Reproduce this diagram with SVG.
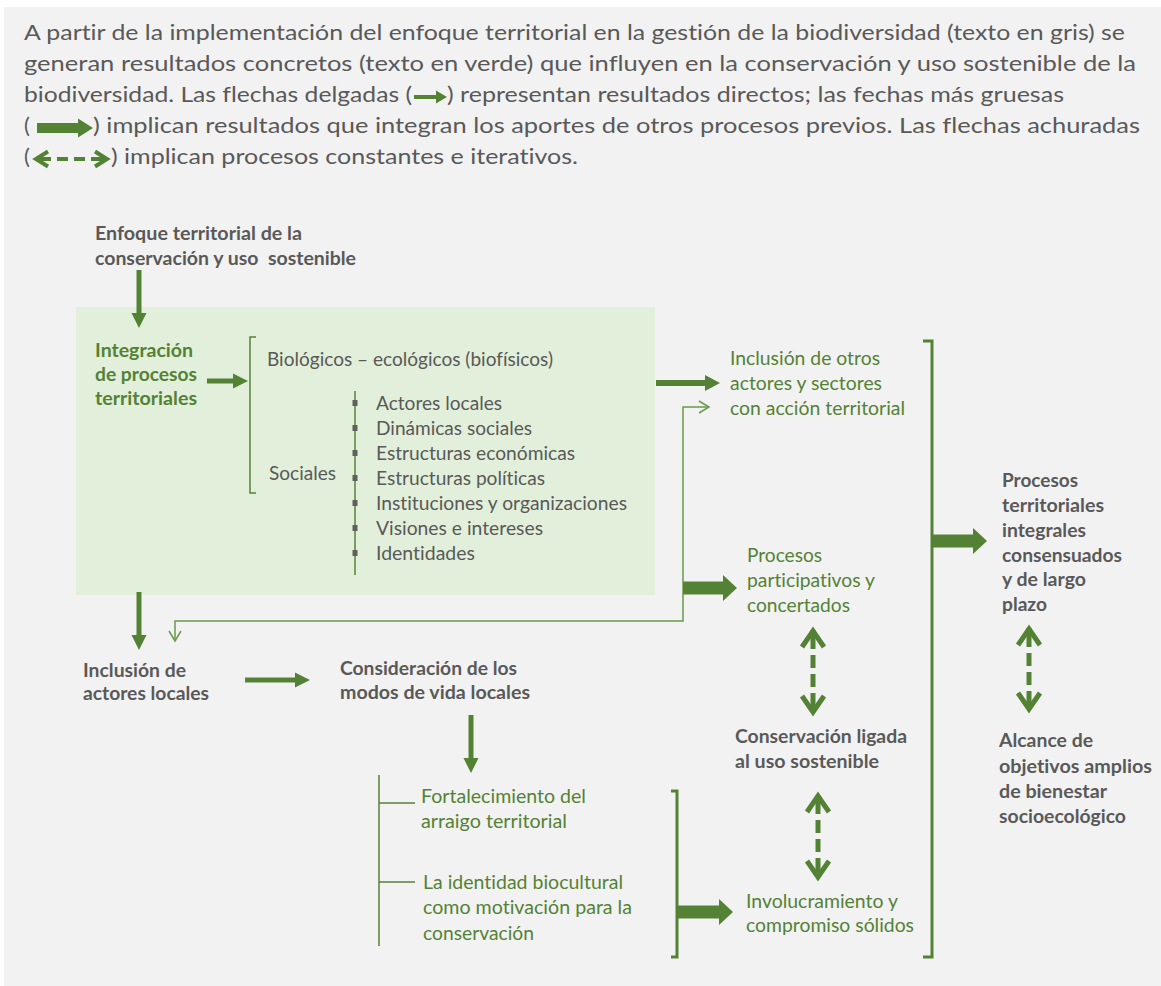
<svg xmlns="http://www.w3.org/2000/svg" width="1161" height="986" viewBox="0 0 1161 986">
<style>
text{font-variant-ligatures:none}
.p{font-family:Lato,'Open Sans',sans-serif;font-size:22px;fill:#595959}
.r{font-family:Lato,'Open Sans',sans-serif;font-size:19.5px;fill:#595959}
.g{font-family:Lato,'Open Sans',sans-serif;font-size:19.5px;fill:#548235}
.b{font-family:Lato,'Open Sans',sans-serif;font-size:18.5px;font-weight:700;fill:#595959}
.gb{font-family:Lato,'Open Sans',sans-serif;font-size:18.5px;font-weight:700;fill:#548235}
.ar{fill:#548235}
.ln{stroke:#548235;fill:none;stroke-width:1.5}
.br{stroke:#548235;fill:none;stroke-width:3}
.thin{stroke:#6a9b4b;fill:none;stroke-width:1.5}
.dsh{stroke:#548235;fill:none;stroke-width:5;stroke-dasharray:19 6 13 6 13 6 19}
.chev{stroke:#548235;fill:none;stroke-width:5;stroke-linejoin:miter}
.sq{fill:#5f5f5f}
</style>
<rect x="0" y="0" width="1161" height="986" fill="#ffffff"/>
<rect x="4" y="7" width="1157" height="979" fill="#f2f2f2"/>
<g id="legend">
<text class="p" x="24" y="40" textLength="1101" lengthAdjust="spacingAndGlyphs">A partir de la implementación del enfoque territorial en la gestión de la biodiversidad (texto en gris) se</text>
<text class="p" x="24" y="71" textLength="1112" lengthAdjust="spacingAndGlyphs">generan resultados concretos (texto en verde) que influyen en la conservación y uso sostenible de la</text>
<text class="p" x="24" y="102" textLength="388" lengthAdjust="spacingAndGlyphs">biodiversidad. Las flechas delgadas (</text>
<polygon class="ar" points="414,95 436,95 436,90.5 447,97 436,103.5 436,99 414,99"/>
<text class="p" x="447" y="102" textLength="617" lengthAdjust="spacingAndGlyphs">) representan resultados directos; las fechas más gruesas</text>
<text class="p" x="24" y="133">(</text>
<polygon class="ar" points="37,123 78,123 78,118.5 93,128 78,137.5 78,133 37,133"/>
<text class="p" x="93" y="133" textLength="1047" lengthAdjust="spacingAndGlyphs">) implican resultados que integran los aportes de otros procesos previos. Las flechas achuradas</text>
<text class="p" x="24" y="164">(</text>
<polyline class="chev" style="stroke-width:4" points="48,151.5 36,159 48,166.5"/>
<line x1="36" y1="159" x2="51" y2="159" stroke="#548235" stroke-width="4"/>
<line x1="57" y1="159" x2="68" y2="159" stroke="#548235" stroke-width="4"/>
<line x1="74" y1="159" x2="85" y2="159" stroke="#548235" stroke-width="4"/>
<line x1="91" y1="159" x2="107" y2="159" stroke="#548235" stroke-width="4"/>
<polyline class="chev" style="stroke-width:4" points="95,151.5 107,159 95,166.5"/>
<text class="p" x="111" y="164" textLength="467" lengthAdjust="spacingAndGlyphs">) implican procesos constantes e iterativos.</text>
</g>
<rect id="integration-box" x="76" y="307" width="579" height="288" fill="#e2efda"/>
<g id="enfoque">
<text class="b" x="95" y="240" textLength="207" lengthAdjust="spacingAndGlyphs">Enfoque territorial de la</text>
<text class="b" x="95" y="265" textLength="261" lengthAdjust="spacingAndGlyphs" xml:space="preserve">conservación y uso  sostenible</text>
</g>
<g id="integracion">
<text class="gb" x="95" y="357" textLength="98" lengthAdjust="spacingAndGlyphs">Integración</text>
<text class="gb" x="95" y="381" textLength="102" lengthAdjust="spacingAndGlyphs">de procesos</text>
<text class="gb" x="95" y="405" textLength="102" lengthAdjust="spacingAndGlyphs">territoriales</text>
</g>
<g id="biologicos">
<text class="r" x="267" y="366" textLength="286" lengthAdjust="spacingAndGlyphs">Biológicos – ecológicos (biofísicos)</text>
</g>
<g id="sociales">
<text class="r" x="269" y="480" textLength="67" lengthAdjust="spacingAndGlyphs">Sociales</text>
<line class="ln" x1="355" y1="391" x2="355" y2="575"/>
<rect class="sq" x="352.5" y="400" width="5" height="6"/>
<rect class="sq" x="352.5" y="425" width="5" height="6"/>
<rect class="sq" x="352.5" y="450" width="5" height="6"/>
<rect class="sq" x="352.5" y="475" width="5" height="6"/>
<rect class="sq" x="352.5" y="500" width="5" height="6"/>
<rect class="sq" x="352.5" y="525" width="5" height="6"/>
<rect class="sq" x="352.5" y="550" width="5" height="6"/>
<text class="r" x="376" y="410" textLength="126" lengthAdjust="spacingAndGlyphs">Actores locales</text>
<text class="r" x="376" y="435" textLength="156" lengthAdjust="spacingAndGlyphs">Dinámicas sociales</text>
<text class="r" x="376" y="460" textLength="199" lengthAdjust="spacingAndGlyphs">Estructuras económicas</text>
<text class="r" x="376" y="485" textLength="169" lengthAdjust="spacingAndGlyphs">Estructuras políticas</text>
<text class="r" x="376" y="510" textLength="251" lengthAdjust="spacingAndGlyphs">Instituciones y organizaciones</text>
<text class="r" x="376" y="535" textLength="167" lengthAdjust="spacingAndGlyphs">Visiones e intereses</text>
<text class="r" x="376" y="560" textLength="99" lengthAdjust="spacingAndGlyphs">Identidades</text>
</g>
<g id="inclusion-otros">
<text class="g" x="730" y="365" textLength="150" lengthAdjust="spacingAndGlyphs">Inclusión de otros</text>
<text class="g" x="730" y="390" textLength="152" lengthAdjust="spacingAndGlyphs">actores y sectores</text>
<text class="g" x="730" y="415" textLength="175" lengthAdjust="spacingAndGlyphs">con acción territorial</text>
</g>
<g id="procesos-participativos">
<text class="g" x="747" y="562" textLength="75" lengthAdjust="spacingAndGlyphs">Procesos</text>
<text class="g" x="747" y="587" textLength="128" lengthAdjust="spacingAndGlyphs">participativos y</text>
<text class="g" x="747" y="612" textLength="103" lengthAdjust="spacingAndGlyphs">concertados</text>
</g>
<g id="procesos-territoriales">
<text class="b" x="1002" y="487" textLength="76" lengthAdjust="spacingAndGlyphs">Procesos</text>
<text class="b" x="1002" y="512" textLength="102" lengthAdjust="spacingAndGlyphs">territoriales</text>
<text class="b" x="1002" y="537" textLength="84" lengthAdjust="spacingAndGlyphs">integrales</text>
<text class="b" x="1002" y="562" textLength="120" lengthAdjust="spacingAndGlyphs">consensuados</text>
<text class="b" x="1002" y="586" textLength="84" lengthAdjust="spacingAndGlyphs">y de largo</text>
<text class="b" x="1002" y="611" textLength="45" lengthAdjust="spacingAndGlyphs">plazo</text>
</g>
<g id="alcance">
<text class="b" x="999" y="747" textLength="94" lengthAdjust="spacingAndGlyphs">Alcance de</text>
<text class="b" x="999" y="773" textLength="153" lengthAdjust="spacingAndGlyphs">objetivos amplios</text>
<text class="b" x="999" y="798" textLength="108" lengthAdjust="spacingAndGlyphs">de bienestar</text>
<text class="b" x="999" y="823" textLength="127" lengthAdjust="spacingAndGlyphs">socioecológico</text>
</g>
<g id="conservacion-ligada">
<text class="b" x="735" y="743" textLength="172" lengthAdjust="spacingAndGlyphs">Conservación ligada</text>
<text class="b" x="735" y="768" textLength="144" lengthAdjust="spacingAndGlyphs">al uso sostenible</text>
</g>
<g id="involucramiento">
<text class="g" x="746" y="908" textLength="152" lengthAdjust="spacingAndGlyphs">Involucramiento y</text>
<text class="g" x="746" y="932" textLength="168" lengthAdjust="spacingAndGlyphs">compromiso sólidos</text>
</g>
<g id="inclusion-actores">
<text class="b" x="83" y="677" textLength="103" lengthAdjust="spacingAndGlyphs">Inclusión de</text>
<text class="b" x="83" y="700" textLength="126" lengthAdjust="spacingAndGlyphs">actores locales</text>
</g>
<g id="consideracion">
<text class="b" x="340" y="675" textLength="177" lengthAdjust="spacingAndGlyphs">Consideración de los</text>
<text class="b" x="340" y="699" textLength="190" lengthAdjust="spacingAndGlyphs">modos de vida locales</text>
</g>
<g id="fortalecimiento">
<text class="g" x="421" y="803" textLength="165" lengthAdjust="spacingAndGlyphs">Fortalecimiento del</text>
<text class="g" x="421" y="828" textLength="146" lengthAdjust="spacingAndGlyphs">arraigo territorial</text>
</g>
<g id="identidad">
<text class="g" x="423" y="889" textLength="200" lengthAdjust="spacingAndGlyphs">La identidad biocultural</text>
<text class="g" x="423" y="914" textLength="209" lengthAdjust="spacingAndGlyphs">como motivación para la</text>
<text class="g" x="423" y="940" textLength="111" lengthAdjust="spacingAndGlyphs">conservación</text>
</g>
<g id="connectors">
<polygon class="ar" points="136.5,270 141.5,270 141.5,313 146.5,313 139,328 131.5,313 136.5,313"/>
<polygon class="ar" points="207,378.5 233,378.5 233,373.5 248,381 233,388.5 233,383.5 207,383.5"/>
<polyline class="ln" points="256,337 250,337 250,493 256,493"/>
<polygon class="ar" points="656,380 705,380 705,375 720,383 705,391 705,386 656,386"/>
<polyline class="thin" points="175,640 175,621 683,621 683,407 709,407"/>
<polyline class="thin" points="699,401 709,407 699,413"/>
<polyline class="thin" points="169,631 175,641 181,631"/>
<polygon class="ar" points="683,581.5 723,581.5 723,575 737,588 723,601 723,594.5 683,594.5"/>
<polyline class="br" points="923,341 932,341 932,957 923,957"/>
<polygon class="ar" points="932,534.5 973,534.5 973,528 987,541 973,554 973,547.5 932,547.5"/>
<polygon class="ar" points="136.5,592 141.5,592 141.5,635 146.5,635 139,650 131.5,635 136.5,635"/>
<polygon class="ar" points="245,677.5 295,677.5 295,672.5 310,680 295,687.5 295,682.5 245,682.5"/>
<polygon class="ar" points="468.5,715 473.5,715 473.5,758 478.5,758 471,773 463.5,758 468.5,758"/>
<line class="ln" x1="379" y1="775" x2="379" y2="946"/>
<line class="ln" x1="379" y1="803" x2="415" y2="803"/>
<line class="ln" x1="379" y1="882" x2="415" y2="882"/>
<polyline class="br" points="671,791 677,791 677,957 671,957"/>
<polygon class="ar" points="677,905.5 719,905.5 719,899 733,912 719,925 719,918.5 677,918.5"/>
<line class="dsh" x1="813" y1="630" x2="813" y2="712"/>
<polyline class="chev" points="802,647 813,631 824,647"/>
<polyline class="chev" points="802,696 813,712 824,696"/>
<line class="dsh" x1="818" y1="795" x2="818" y2="877"/>
<polyline class="chev" points="807,812 818,796 829,812"/>
<polyline class="chev" points="807,861 818,877 829,861"/>
<line class="dsh" x1="1029" y1="628" x2="1029" y2="709"/>
<polyline class="chev" points="1018,645 1029,629 1040,645"/>
<polyline class="chev" points="1018,693 1029,709 1040,693"/>
</g>
</svg>
